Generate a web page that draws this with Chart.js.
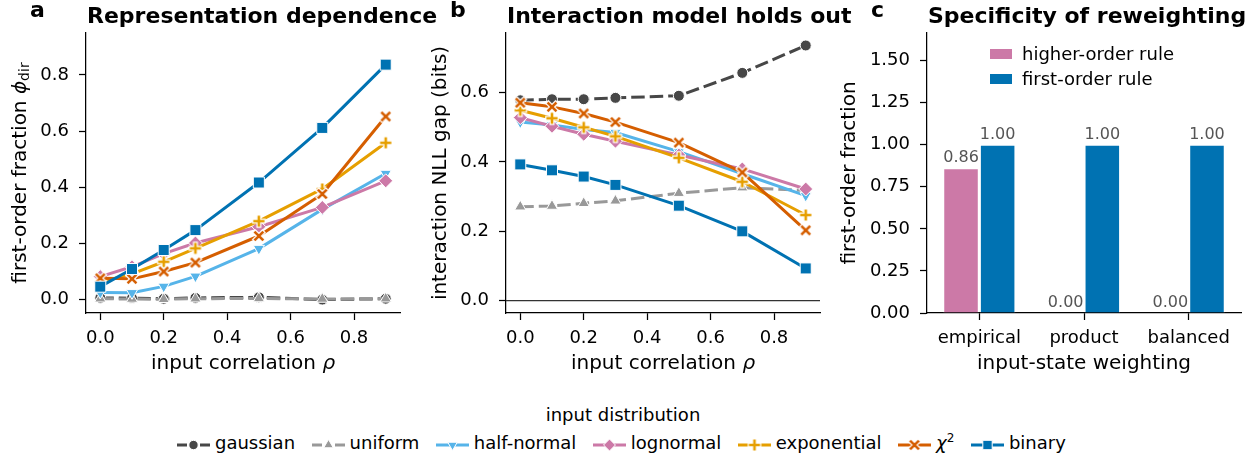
<!DOCTYPE html>
<html>
<head>
<meta charset="utf-8">
<title>Representation dependence and reweighting</title>
<script src="https://cdn.jsdelivr.net/npm/chart.js@4.4.1/dist/chart.umd.min.js"></script>
<style>
  html, body { margin: 0; padding: 0; background: #fff; }
  body { position: relative; width: 1256px; height: 457px; overflow: hidden; font-family: 'DejaVu Sans', sans-serif; color: #000; }
  canvas.panel { position: absolute; top: 0; }
  #legendTitle { position: absolute; left: 0; width: 1246px; top: 406px; text-align: center; font-size: 18px; line-height: 18px; }
  #legend { position: absolute; left: 177px; top: 433px; display: flex; align-items: center; font-size: 18px; line-height: 18px; white-space: nowrap; }
  #legend .item { display: flex; align-items: center; margin-right: 16.5px; }
  #legend canvas { margin-right: 5px; }
  #legend sup { font-size: 12px; line-height: 0; vertical-align: 7px; }
</style>
</head>
<body>
<canvas id="panelA" class="panel" width="440" height="390" style="left:0"></canvas>
<canvas id="panelB" class="panel" width="440" height="390" style="left:420px"></canvas>
<canvas id="panelC" class="panel" width="430" height="390" style="left:826px"></canvas>
<div id="legendTitle">input distribution</div>
<div id="legend"></div>
<script>
const FONT = "'DejaVu Sans', sans-serif";
Chart.defaults.font.family = FONT;
Chart.defaults.color = '#000';

// input correlation levels and axis ticks
const rho = [0, 0.1, 0.2, 0.3, 0.5, 0.7, 0.9];
const rhoTicks = [0, 0.2, 0.4, 0.6, 0.8];
const phiTicks = [0, 0.2, 0.4, 0.6, 0.8];
const gapTicks = [0, 0.2, 0.4, 0.6];
const fractionTicks = [0, 0.25, 0.5, 0.75, 1.0, 1.25, 1.5];

const distributions = ['gaussian', 'uniform', 'half-normal', 'lognormal', 'exponential', 'χ²', 'binary'];

// a: first-order fraction phi_dir
const phiGaussian    = [0.004, 0.003, 0.001, 0.004, 0.006, -0.002, 0.001];
const phiUniform     = [0.001, 0.000, -0.001, 0.001, 0.002, 0.000, 0.001];
const phiHalfNormal  = [0.023, 0.022, 0.045, 0.081, 0.180, 0.320, 0.448];
const phiLognormal   = [0.080, 0.115, 0.162, 0.200, 0.258, 0.327, 0.422];
const phiExponential = [0.060, 0.090, 0.133, 0.181, 0.278, 0.393, 0.558];
const phiChi2        = [0.074, 0.072, 0.098, 0.130, 0.225, 0.375, 0.652];
const phiBinary      = [0.044, 0.107, 0.175, 0.246, 0.416, 0.611, 0.837];

// b: interaction NLL gap (bits)
const gapGaussian    = [0.578, 0.581, 0.581, 0.585, 0.591, 0.657, 0.736];
const gapUniform     = [0.271, 0.273, 0.281, 0.288, 0.310, 0.326, 0.318];
const gapHalfNormal  = [0.515, 0.507, 0.494, 0.485, 0.430, 0.366, 0.303];
const gapLognormal   = [0.528, 0.503, 0.480, 0.460, 0.420, 0.380, 0.322];
const gapExponential = [0.549, 0.526, 0.500, 0.474, 0.412, 0.343, 0.247];
const gapChi2        = [0.571, 0.559, 0.540, 0.515, 0.456, 0.370, 0.203];
const gapBinary      = [0.393, 0.376, 0.358, 0.334, 0.274, 0.200, 0.093];

// c: first-order fraction per input-state weighting
const weightings = ['empirical', 'product', 'balanced'];
const rules = ['higher-order rule', 'first-order rule'];
const higherOrder = [0.86, 0.00, 0.00];
const firstOrder = [1.00, 1.00, 1.00];

const phiDir = [phiGaussian, phiUniform, phiHalfNormal, phiLognormal, phiExponential, phiChi2, phiBinary];
const nllGap = [gapGaussian, gapUniform, gapHalfNormal, gapLognormal, gapExponential, gapChi2, gapBinary];

// '+' and 'x' markers with a white outline, used as image point styles
function crossMarker(color, diagonal) {
  const c = document.createElement('canvas');
  c.width = c.height = 20;
  const g = c.getContext('2d');
  g.translate(10, 10);
  if (diagonal) g.rotate(Math.PI / 4);
  const arm = diagonal ? 6.3 : 5.6;
  [[arm + 1.2, 5, '#fff'], [arm, 2.6, color]].forEach(([len, w, col]) => {
    g.strokeStyle = col;
    g.lineWidth = w;
    g.beginPath();
    g.moveTo(-len, 0); g.lineTo(len, 0);
    g.moveTo(0, -len); g.lineTo(0, len);
    g.stroke();
  });
  return c;
}

const looks = [
  { color: '#474747', dash: [13.5, 5], style: 'circle', radius: 5.5 },
  { color: '#999999', dash: [13.5, 5], style: 'triangle', radius: 6.5 },
  { color: '#56B4E9', style: 'triangle', radius: 6.5, rotation: 180 },
  { color: '#CC79A7', style: 'rectRot', radius: 7 },
  { color: '#E69F00', style: crossMarker('#E69F00', false), radius: 6 },
  { color: '#D55E00', style: crossMarker('#D55E00', true), radius: 6 },
  { color: '#0072B2', style: 'rect', radius: 7.8 },
];

// draw a run of text pieces (italic / subscript) centred on x
function drawRuns(ctx, runs, x, y, size) {
  const parts = runs.map(r => {
    const font = `${r.italic ? 'italic ' : ''}${size * (r.scale || 1)}px ${FONT}`;
    ctx.font = font;
    return { ...r, font, w: ctx.measureText(r.t).width };
  });
  let cx = x - parts.reduce((s, p) => s + p.w, 0) / 2;
  ctx.textAlign = 'left';
  ctx.textBaseline = 'alphabetic';
  parts.forEach(p => {
    ctx.font = p.font;
    ctx.fillText(p.t, cx, y + (p.dy || 0));
    cx += p.w;
  });
}

// panel letter, left-aligned title and axis titles
function panelText(cfg) {
  return {
    id: 'panelText',
    afterDraw(chart) {
      const { ctx, chartArea: a } = chart;
      ctx.save();
      ctx.fillStyle = '#000';
      ctx.textAlign = 'left';
      ctx.textBaseline = 'alphabetic';
      ctx.font = `bold 22px ${FONT}`;
      ctx.fillText(cfg.letter, a.left - 56, 17);
      ctx.fillText(cfg.title, a.left + 1, 23);
      drawRuns(ctx, cfg.xTitle, (a.left + a.right) / 2, 369, 20);
      ctx.translate(cfg.yTitleX, (a.top + a.bottom) / 2);
      ctx.rotate(-Math.PI / 2);
      drawRuns(ctx, cfg.yTitle, 0, 0, 20);
      ctx.restore();
    }
  };
}

function axisStyle() {
  return {
    grid: { display: true, drawOnChartArea: false, drawTicks: true, tickLength: 7, tickColor: '#000', tickWidth: 1.25 },
    border: { display: true, color: '#000', width: 1.25 },
  };
}

function lineDatasets(values) {
  return distributions.map((name, i) => {
    const lk = looks[i];
    return {
      label: name,
      data: rho.map((x, j) => ({ x, y: values[i][j] })),
      borderColor: lk.color,
      backgroundColor: lk.color,
      borderWidth: 3,
      borderDash: lk.dash || [],
      borderJoinStyle: 'round',
      pointStyle: lk.style,
      pointRadius: lk.radius,
      pointRotation: lk.rotation || 0,
      pointBackgroundColor: lk.color,
      pointBorderColor: '#fff',
      pointBorderWidth: 1,
      order: distributions.length - i,
      tension: 0,
    };
  });
}

function linePanel(id, values, yMin, yMax, yTicks, text, extra) {
  return new Chart(document.getElementById(id), {
    type: 'line',
    data: { datasets: lineDatasets(values) },
    options: {
      responsive: false,
      animation: false,
      events: [],
      layout: { padding: { top: 33, right: 40, left: 0, bottom: 0 } },
      scales: {
        x: {
          type: 'linear', min: -0.045, max: 0.945, ...axisStyle(),
          afterBuildTicks: s => { s.ticks = rhoTicks.map(v => ({ value: v })); },
          afterFit: s => { s.height = 77; },
          ticks: { font: { size: 18 }, padding: 8, maxRotation: 0, autoSkip: false, callback: v => v.toFixed(1) },
        },
        y: {
          type: 'linear', min: yMin, max: yMax, ...axisStyle(),
          afterBuildTicks: s => { s.ticks = yTicks.map(v => ({ value: v })); },
          afterFit: s => { s.width = 86; },
          ticks: { font: { size: 18 }, padding: 10, autoSkip: false, callback: v => v.toFixed(1) },
        },
      },
      plugins: { legend: { display: false }, tooltip: { enabled: false } },
    },
    plugins: [panelText(text)].concat(extra || []),
  });
}

const rhoTitle = [{ t: 'input correlation ' }, { t: 'ρ', italic: true }];

linePanel('panelA', phiDir, -0.05, 0.95, phiTicks, {
  letter: 'a', title: 'Representation dependence', xTitle: rhoTitle, yTitleX: 26,
  yTitle: [{ t: 'first-order fraction ' }, { t: 'ϕ', italic: true }, { t: 'dir', scale: 0.7, dy: 3 }],
});

// thin reference line at zero gap
const zeroLine = {
  id: 'zeroLine',
  beforeDatasetsDraw(chart) {
    const { ctx, chartArea: a, scales: { y } } = chart;
    const py = y.getPixelForValue(0);
    ctx.save();
    ctx.strokeStyle = '#333';
    ctx.lineWidth = 1.2;
    ctx.beginPath();
    ctx.moveTo(a.left, py);
    ctx.lineTo(a.right, py);
    ctx.stroke();
    ctx.restore();
  }
};

linePanel('panelB', nllGap, -0.0355, 0.772, gapTicks, {
  letter: 'b', title: 'Interaction model holds out', xTitle: rhoTitle, yTitleX: 26,
  yTitle: [{ t: 'interaction NLL gap (bits)' }],
}, [zeroLine]);

const barColors = ['#CC79A7', '#0072B2'];

// value printed above each bar
const barValues = {
  id: 'barValues',
  afterDatasetsDraw(chart) {
    const { ctx } = chart;
    ctx.save();
    ctx.fillStyle = '#555';
    ctx.font = `16px ${FONT}`;
    ctx.textAlign = 'center';
    ctx.textBaseline = 'alphabetic';
    chart.data.datasets.forEach((ds, i) => {
      chart.getDatasetMeta(i).data.forEach((bar, j) => {
        ctx.fillText(ds.data[j].toFixed(2), bar.x, bar.y - 6);
      });
    });
    ctx.restore();
  }
};

// legend boxes inside the bar panel
const ruleLegend = {
  id: 'ruleLegend',
  afterDraw(chart) {
    const { ctx, chartArea: a } = chart;
    ctx.save();
    ctx.font = `18px ${FONT}`;
    ctx.textAlign = 'left';
    ctx.textBaseline = 'alphabetic';
    rules.forEach((r, i) => {
      const top = 49 + i * 25;
      ctx.fillStyle = barColors[i];
      ctx.fillRect(a.left + 63, top, 22, 10);
      ctx.fillStyle = '#000';
      ctx.fillText(r, a.left + 95, top + 11);
    });
    ctx.restore();
  }
};

new Chart(document.getElementById('panelC'), {
  type: 'bar',
  data: {
    labels: weightings,
    datasets: [
      { label: rules[0], data: higherOrder, backgroundColor: barColors[0], borderColor: 'rgba(255,255,255,0.6)', borderWidth: 1 },
      { label: rules[1], data: firstOrder, backgroundColor: barColors[1], borderColor: 'rgba(255,255,255,0.6)', borderWidth: 1 },
    ],
  },
  options: {
    responsive: false,
    animation: false,
    events: [],
    layout: { padding: { top: 33, right: 15, left: 0, bottom: 0 } },
    datasets: { bar: { categoryPercentage: 0.7, barPercentage: 0.97 } },
    scales: {
      x: {
        offset: true, ...axisStyle(),
        grid: { display: true, offset: false, drawOnChartArea: false, drawTicks: true, tickLength: 7, tickColor: '#000', tickWidth: 1.25 },
        afterFit: s => { s.height = 77; },
        ticks: { font: { size: 18 }, padding: 8, maxRotation: 0, autoSkip: false },
      },
      y: {
        min: 0, max: 1.664, ...axisStyle(),
        afterBuildTicks: s => { s.ticks = fractionTicks.map(v => ({ value: v })); },
        afterFit: s => { s.width = 101; },
        ticks: { font: { size: 18 }, padding: 10, autoSkip: false, callback: v => v.toFixed(2) },
      },
    },
    plugins: { legend: { display: false }, tooltip: { enabled: false } },
  },
  plugins: [panelText({
    letter: 'c', title: 'Specificity of reweighting', yTitleX: 29,
    xTitle: [{ t: 'input-state weighting' }],
    yTitle: [{ t: 'first-order fraction' }],
  }), barValues, ruleLegend],
});

// shared legend for the distributions, line sample with marker
const legend = document.getElementById('legend');
distributions.forEach((name, i) => {
  const lk = looks[i];
  const item = document.createElement('div');
  item.className = 'item';
  const icon = document.createElement('canvas');
  icon.width = 33;
  icon.height = 20;
  const g = icon.getContext('2d');
  g.strokeStyle = lk.color;
  g.lineWidth = 3;
  g.beginPath();
  if (lk.dash) {
    g.moveTo(0, 12); g.lineTo(10, 12);
    g.moveTo(23, 12); g.lineTo(33, 12);
  } else {
    g.moveTo(0, 12); g.lineTo(33, 12);
  }
  g.stroke();
  g.fillStyle = lk.color;
  g.strokeStyle = '#fff';
  g.lineWidth = 1;
  Chart.helpers.drawPoint(g, { pointStyle: lk.style, rotation: lk.rotation || 0, radius: lk.radius * 0.85, borderWidth: 1 }, 16.5, 12);
  const label = document.createElement('span');
  label.innerHTML = name === 'χ²' ? '<i>χ</i><sup>2</sup>' : name;
  item.appendChild(icon);
  item.appendChild(label);
  legend.appendChild(item);
});
</script>
</body>
</html>
